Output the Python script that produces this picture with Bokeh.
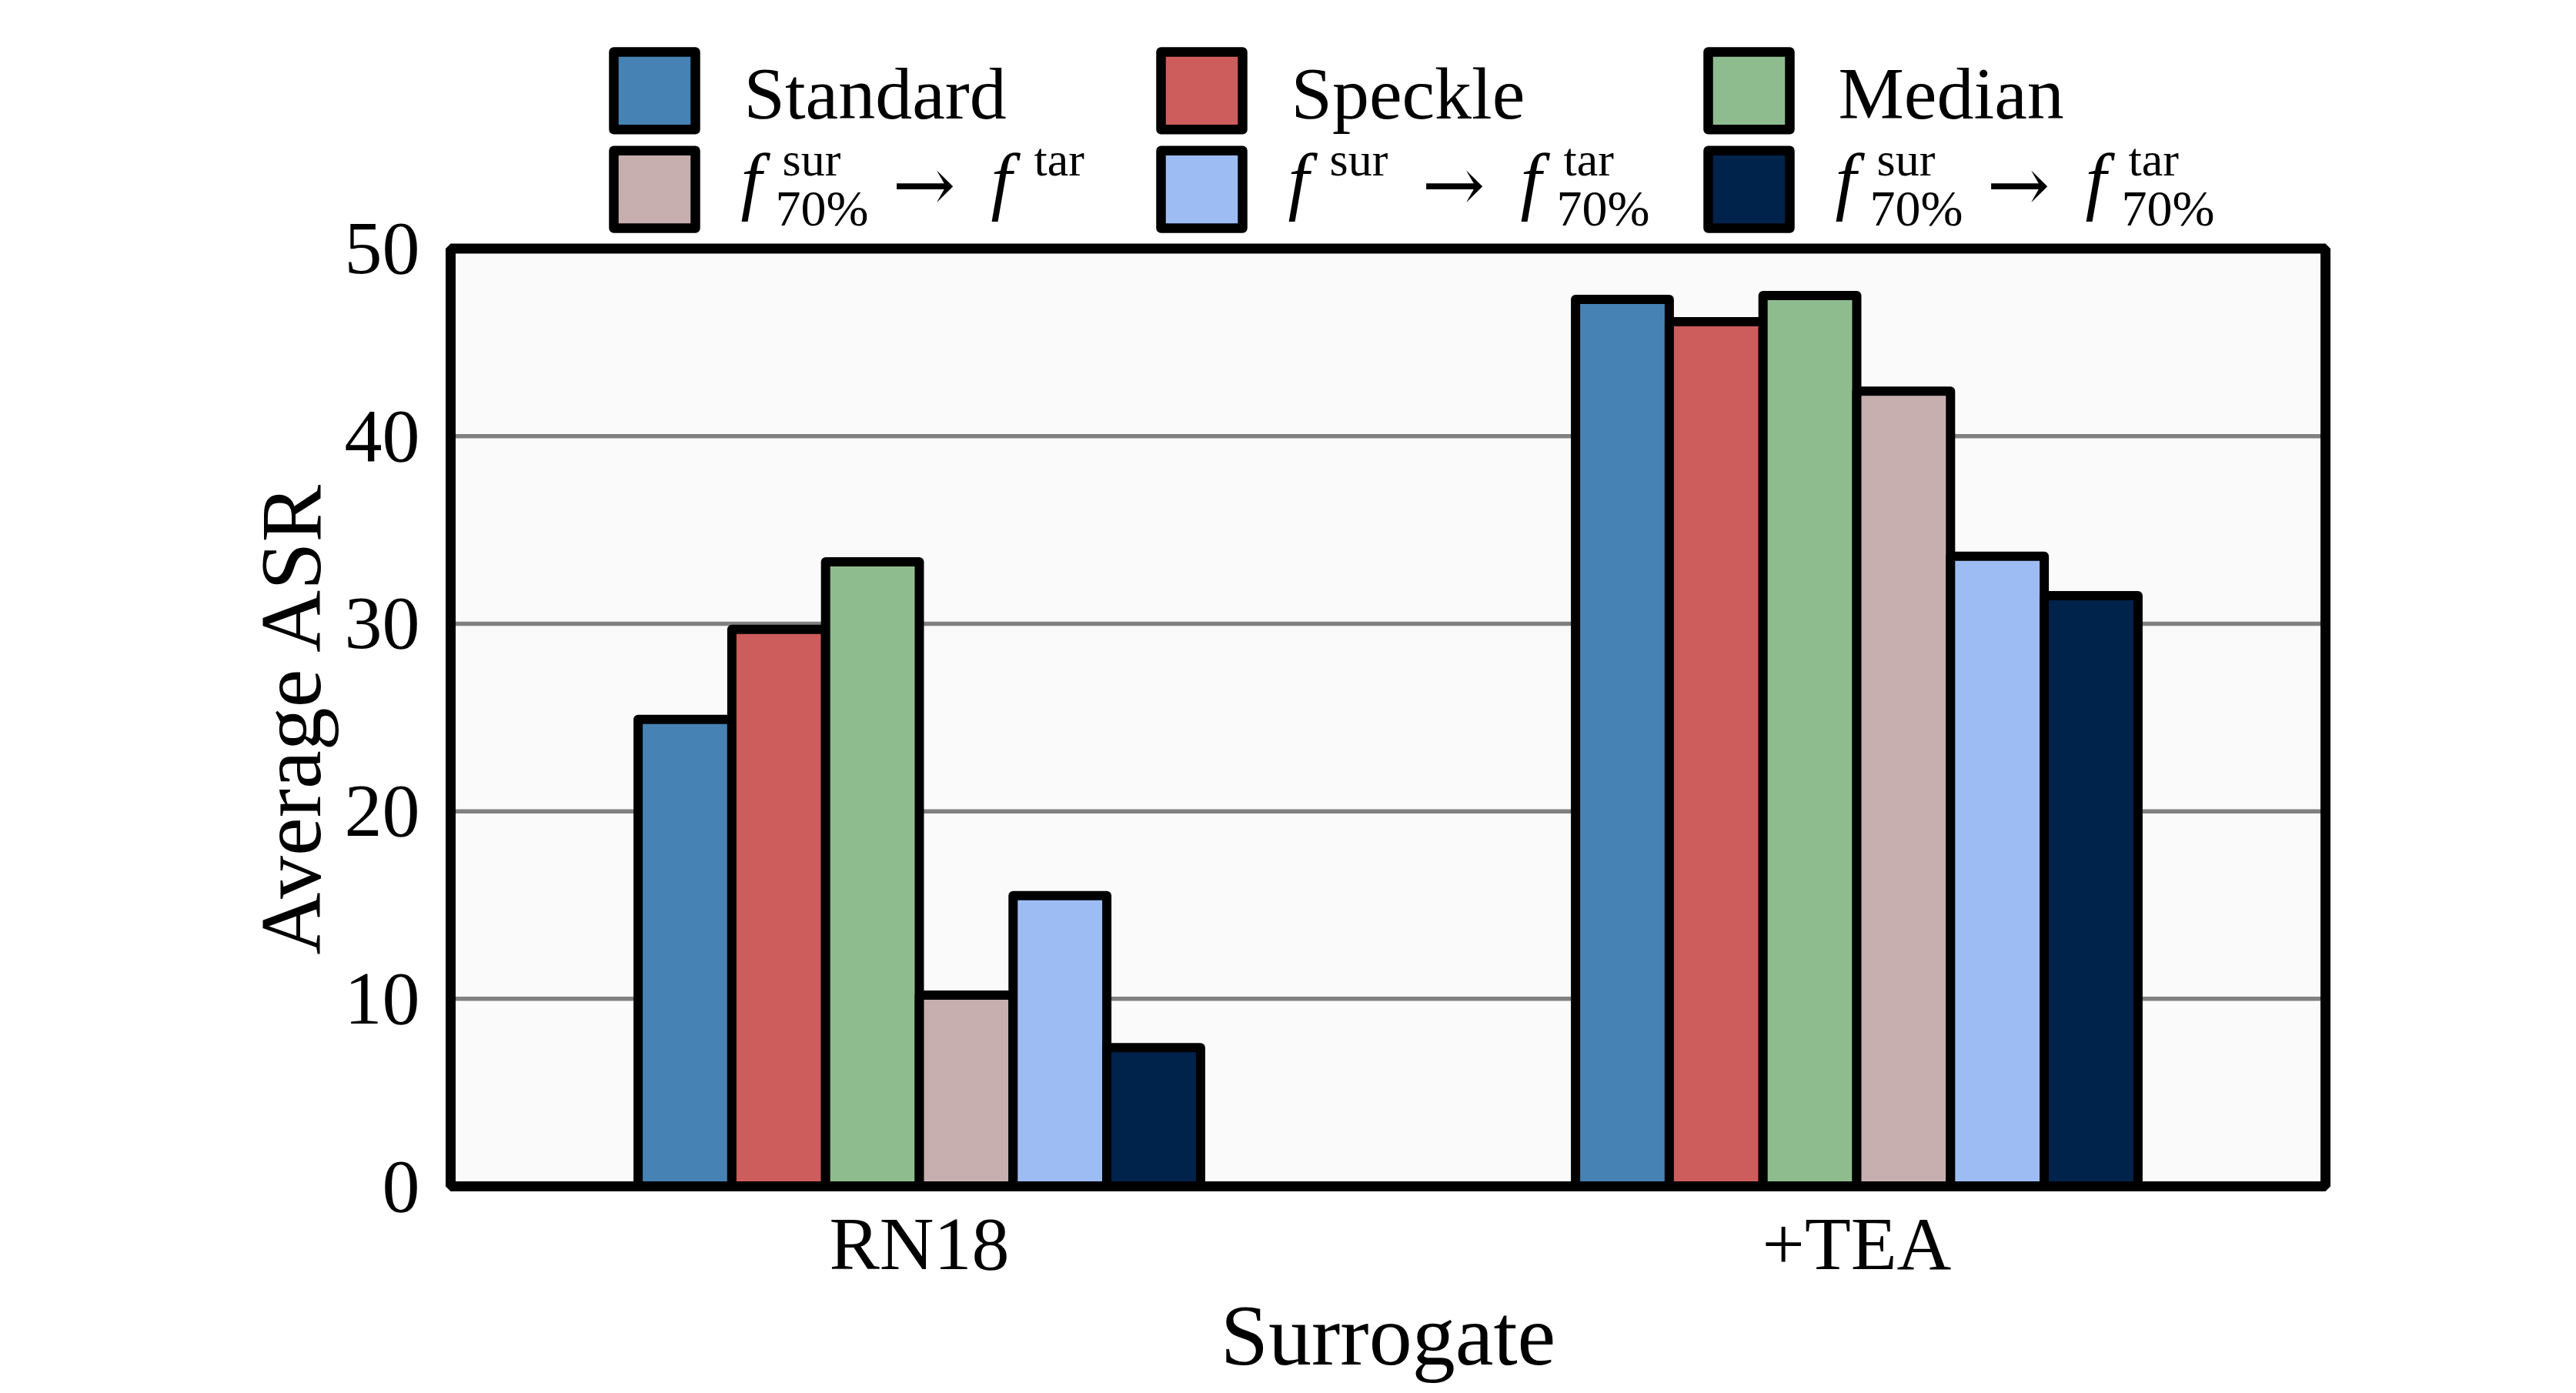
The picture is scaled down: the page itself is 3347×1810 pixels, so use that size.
from bokeh.plotting import figure
from bokeh.models import Range1d, FixedTicker, ColumnDataSource, Title
from bokeh.transform import dodge
from bokeh.core.properties import value
from bokeh.embed import file_html
from bokeh.resources import INLINE

# ---------------- data ----------------
categories = ["RN18", "+TEA"]
series_keys = ["standard", "speckle", "median", "sur70_tar", "sur_tar70", "sur70_tar70"]
standard = [24.9, 47.3]
speckle = [29.7, 46.1]
median = [33.3, 47.5]
sur70_tar = [10.2, 42.4]
sur_tar70 = [15.5, 33.6]
sur70_tar70 = [7.4, 31.5]
colors = ["#4682B4", "#CD5C5C", "#8FBC8F", "#C7AFAF", "#9DBCF4", "#00234B"]
yticks = [0, 10, 20, 30, 40, 50]
plain_labels = ["Standard", "Speckle", "Median"]
y_label = "Average ASR"
x_label = "Surrogate"

# ---------------- layout constants (picture pixels) ----------------
FONT = "Liberation Serif"
ARROW_FONT = "DejaVu Serif"
W, H = 3331, 1799
BOX_L, BOX_R, BOX_T, BOX_B = 585, 3021, 323, 1543
PAD = 7
TXT_FIX = 0.30      # baseline correction (fraction of font size)
YLABEL_START = 1242  # where the rotated y label begins (bottom end)

n_groups = len(categories)
x_lo_val, x_hi_val = -0.5, n_groups - 0.5
y_lo_val, y_hi_val = yticks[0], yticks[-1]
ppx = (BOX_R - BOX_L) / (x_hi_val - x_lo_val)
ppy = (BOX_B - BOX_T) / (y_hi_val - y_lo_val)

FR_L, FR_R, FR_T, FR_B = BOX_L - PAD, BOX_R + PAD, 0, BOX_B + PAD

p = figure(width=W, height=H,
           x_range=Range1d(x_lo_val - PAD / ppx, x_hi_val + PAD / ppx),
           y_range=Range1d(y_lo_val - PAD / ppy, y_hi_val + (BOX_T - FR_T) / ppy),
           output_backend="svg", toolbar_location=None,
           min_border_left=FR_L, min_border_right=W - FR_R, min_border_top=FR_T,
           min_border_bottom=H - FR_B)
p.extra_x_ranges = {"px": Range1d(FR_L, FR_R)}
p.extra_y_ranges = {"px": Range1d(FR_B, FR_T)}
p.background_fill_color = "white"
p.border_fill_color = "white"
p.outline_line_color = None
p.grid.visible = False

# plot box background
p.quad(left=[BOX_L], right=[BOX_R], bottom=[y_lo_val], top=[y_hi_val],
       x_range_name="px", fill_color="#FAFAFA", line_color=None)
# horizontal grid lines
gl = yticks[1:-1]
p.segment(x0=[BOX_L] * len(gl), x1=[BOX_R] * len(gl), y0=gl, y1=gl,
          x_range_name="px", line_color="#808080", line_width=5.5)

# bars
src = ColumnDataSource(dict(pos=list(range(n_groups)), standard=standard, speckle=speckle,
                            median=median, sur70_tar=sur70_tar, sur_tar70=sur_tar70,
                            sur70_tar70=sur70_tar70))
n = len(series_keys)
bw = 0.1
for i, (key, col) in enumerate(zip(series_keys, colors)):
    off = (i - (n - 1) / 2) * bw
    p.vbar(x=dodge("pos", off), top=key, width=bw, bottom=0,
           source=src, fill_color=col, line_color="black", line_width=12,
           line_join="round")

# plot box outline
p.quad(left=[BOX_L], right=[BOX_R], bottom=[y_lo_val], top=[y_hi_val],
       x_range_name="px", fill_color=None, line_color="black", line_width=13)

# axes
p.xaxis.ticker = FixedTicker(ticks=list(range(n_groups)))
p.xaxis.major_label_overrides = {i: c for i, c in enumerate(categories)}
p.yaxis.ticker = FixedTicker(ticks=yticks)

for ax in (p.xaxis[0], p.yaxis[0]):
    ax.axis_line_color = None
    ax.major_tick_line_color = None
    ax.minor_tick_line_color = None
    ax.major_tick_out = 0
    ax.major_tick_in = 0
    ax.minor_tick_out = 0
    ax.major_label_text_font = FONT
    ax.major_label_text_font_size = "98px"
    ax.major_label_text_color = "black"
    ax.axis_label_text_font = FONT
    ax.axis_label_text_font_size = "112px"
    ax.axis_label_text_font_style = "normal"
    ax.axis_label_text_color = "black"

p.xaxis.axis_label = x_label
p.xaxis.major_label_standoff = 20 - PAD
p.xaxis.axis_label_standoff = 0
p.yaxis.major_label_standoff = 40 - PAD

# y axis title, placed along the plot box rather than the (taller) frame
ytitle = Title(text=y_label, align="left", offset=FR_B - YLABEL_START,
               text_font=FONT, text_font_size="112px", text_font_style="normal",
               text_color="black", standoff=10)
p.add_layout(ytitle, "left")

# ---------------- legend (inside the extended frame, pixel ranges) ----------------
col_cx = [850, 1561, 2272]
row_cy = [117.5, 246]
text_dx = 116
row1_base = 150
row2_base = 263

px, py, pc = [], [], []
for r in range(2):
    for c in range(3):
        px.append(col_cx[c])
        py.append(row_cy[r])
        pc.append(colors[r * 3 + c])
p.rect(x=px, y=py, width=106, height=101, fill_color=pc, line_color="black",
       line_width=12.5, line_join="round", x_range_name="px", y_range_name="px")

p.text(x=[cx + text_dx for cx in col_cx], y=[row1_base - TXT_FIX * 96] * 3,
       text=plain_labels, text_font=value(FONT), text_font_size=value("96px"),
       text_baseline="alphabetic", text_align="left", text_color="black",
       x_range_name="px", y_range_name="px")

# math-like labels built from pieces: (text, dx, dy, size, style, font)
A = "\u2192"
first_a = [("f", -4, 0, 98, "italic", FONT), ("sur", 50, -38, 62, "normal", FONT),
           ("70%", 41, 27, 66, "normal", FONT), (A, 193, 6, 98, "normal", ARROW_FONT),
           ("f", 321, 0, 98, "italic", FONT), ("tar", 377, -38, 62, "normal", FONT)]
second_b = [("f", -4, 0, 98, "italic", FONT), ("sur", 50, -38, 62, "normal", FONT),
            (A, 170, 6, 98, "normal", ARROW_FONT), ("f", 298, 0, 98, "italic", FONT),
            ("tar", 354, -38, 62, "normal", FONT), ("70%", 345, 27, 66, "normal", FONT)]
third_c = [("f", -4, 0, 98, "italic", FONT), ("sur", 50, -38, 62, "normal", FONT),
           ("70%", 41, 27, 66, "normal", FONT), (A, 193, 6, 98, "normal", ARROW_FONT),
           ("f", 321, 0, 98, "italic", FONT), ("tar", 377, -38, 62, "normal", FONT),
           ("70%", 368, 27, 66, "normal", FONT)]
mx, my, mt, ms, mst, mf = [], [], [], [], [], []
for c, pieces in enumerate([first_a, second_b, third_c]):
    x0 = col_cx[c] + text_dx
    for t, dx, dy, sz, st, fn in pieces:
        mx.append(x0 + dx)
        my.append(row2_base + dy - TXT_FIX * sz)
        mt.append(t)
        ms.append(f"{sz}px")
        mst.append(st)
        mf.append(fn)
msrc = ColumnDataSource(dict(x=mx, y=my, text=mt, size=ms, style=mst, font=mf))
p.text(x="x", y="y", text="text", source=msrc, text_font="font",
       text_font_size="size", text_font_style="style", text_baseline="alphabetic",
       text_align="left", text_color="black", x_range_name="px", y_range_name="px")

open("out.html", "w").write(file_html(p, INLINE))
